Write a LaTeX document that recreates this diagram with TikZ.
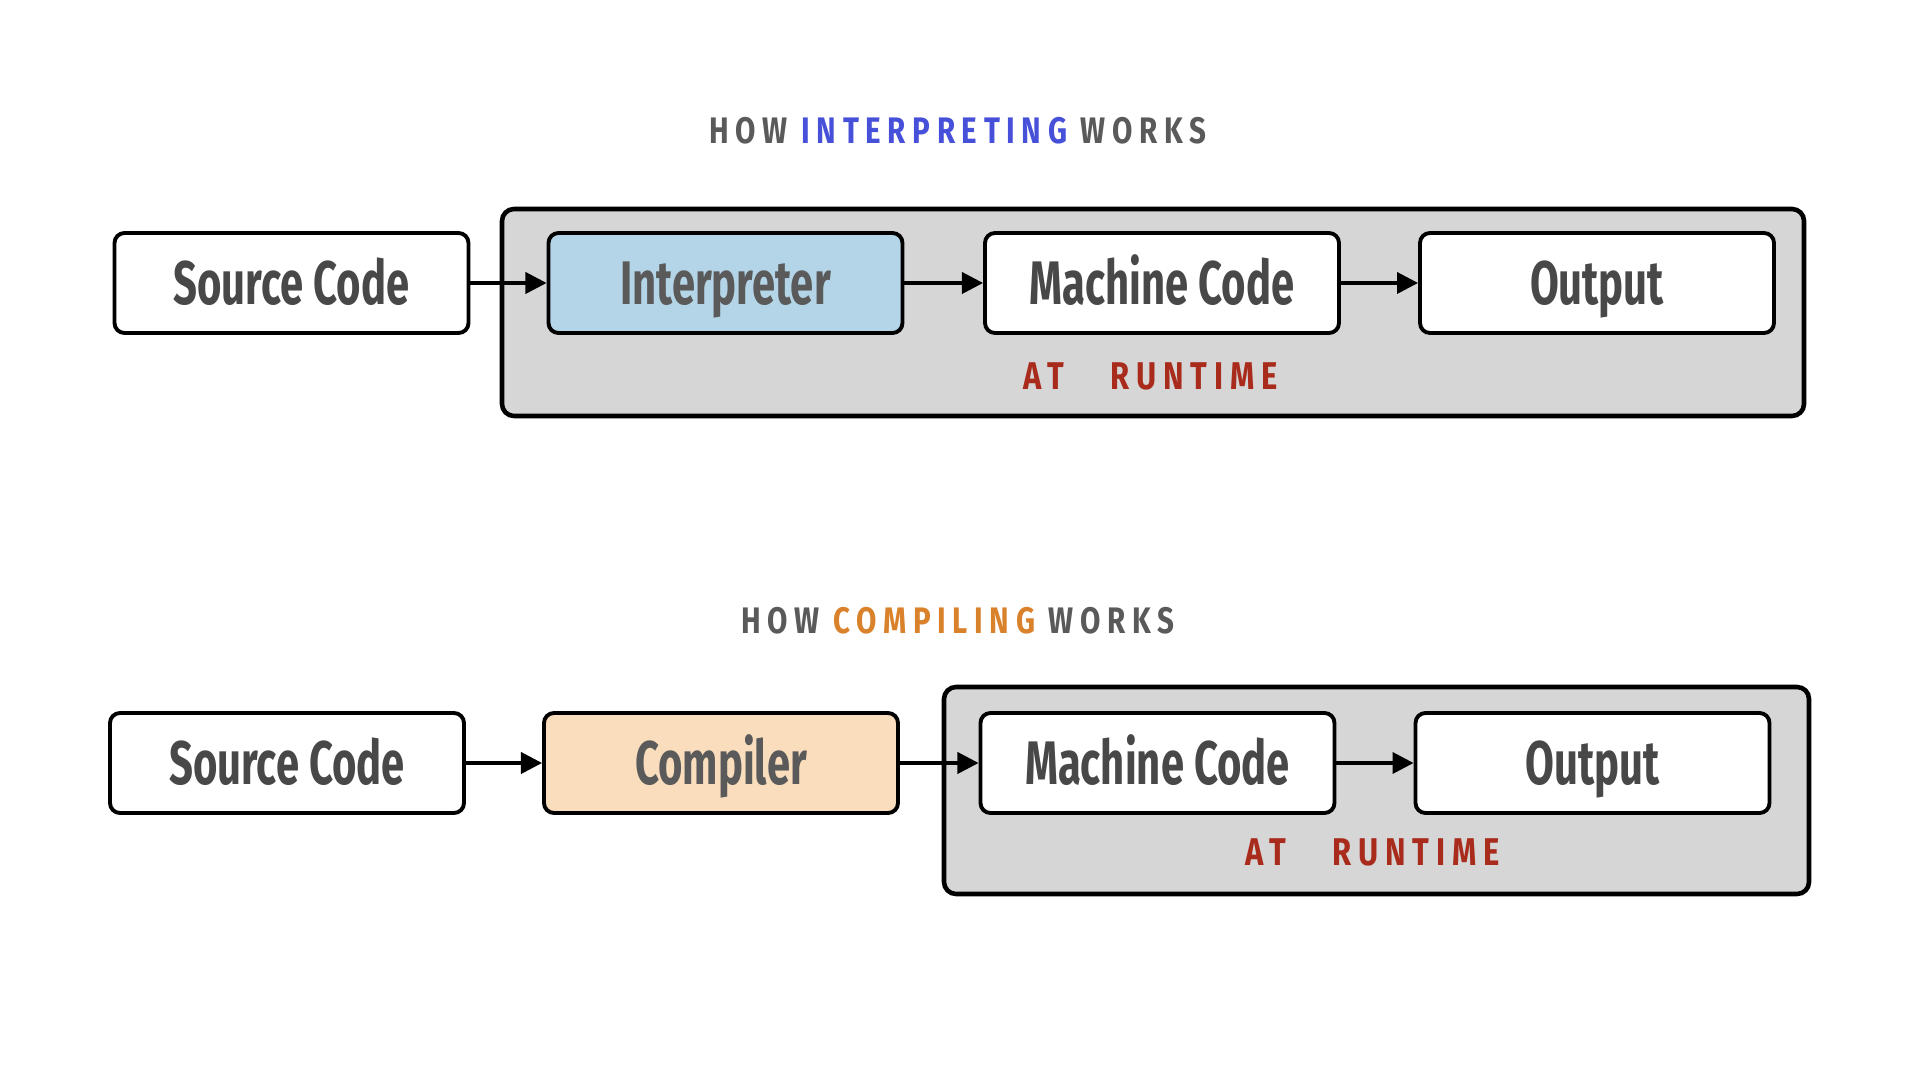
\documentclass[tikz,border=0pt]{standalone}
\usepackage{fontspec}
\setmainfont{Fira Sans}
\newfontfamily\boxfont{Fira Sans}[FakeStretch=0.68]
\newfontfamily\titlefont{Fira Sans}[FakeStretch=0.8, LetterSpace=18]
\usetikzlibrary{arrows.meta}
\definecolor{inkgray}{HTML}{484848}
\definecolor{titlegray}{HTML}{5A5A5A}
\definecolor{interpblue}{HTML}{B4D5E7}
\definecolor{compileorange}{HTML}{F9DDBD}
\definecolor{boxgray}{HTML}{D6D6D6}
\definecolor{runtimered}{HTML}{A82B1B}
\definecolor{titleblue}{HTML}{4650D8}
\definecolor{titleorange}{HTML}{D9822B}

\begin{document}
\begin{tikzpicture}[
	stagebox/.style={draw=black, line width=1.1pt, rounded corners=0.1cm, fill=white,
		minimum width=3.54cm, minimum height=1cm, text height=0.5cm, text depth=0.07cm,
		font=\boxfont\bfseries\fontsize{17.5}{20}\selectfont, text=inkgray},
	runbox/.style={draw=black, line width=1.3pt, rounded corners=0.12cm, fill=boxgray,
		minimum height=2.07cm},
	flow/.style={-{Triangle[length=6pt,width=6pt]}, line width=1pt, black},
	heading/.style={font=\titlefont\bfseries\fontsize{10.5}{12}\selectfont, text=titlegray},
	runlabel/.style={font=\titlefont\bfseries\fontsize{11}{13}\selectfont, text=runtimered}
]
		\useasboundingbox (0, 0) rectangle (19.2, 10.8);
		
		%%%%% INTERPRETING %%%%%
		\node[heading] (titleA) at (9.58, 9.49) {HOW \textcolor{titleblue}{INTERPRETING} WORKS};
		
		\node[runbox, minimum width=13.02cm] (runA) at (11.53, 7.675) {};
		\node[runlabel] (atA) at (11.51, 7.04) {AT\hspace{1.2em}RUNTIME};
		
		\node[stagebox] (srcA) at (2.915, 7.97) {Source Code};
		\node[stagebox, fill=interpblue, text=titlegray] (interp) at (7.255, 7.97) {Interpreter};
		\node[stagebox] (machA) at (11.62, 7.97) {Machine Code};
		\node[stagebox] (outA) at (15.97, 7.97) {Output};
		
		\draw[flow] (srcA) -- (interp);
		\draw[flow] (interp) -- (machA);
		\draw[flow] (machA) -- (outA);
		
		%%%%% COMPILING %%%%%
		\node[heading] (titleB) at (9.58, 4.59) {HOW \textcolor{titleorange}{COMPILING} WORKS};
		
		\node[runbox, minimum width=8.65cm] (runB) at (13.765, 2.895) {};
		\node[runlabel] (atB) at (13.73, 2.28) {AT\hspace{1.2em}RUNTIME};
		
		\node[stagebox] (srcB) at (2.87, 3.17) {Source Code};
		\node[stagebox, fill=compileorange, text=titlegray] (comp) at (7.21, 3.17) {Compiler};
		\node[stagebox] (machB) at (11.575, 3.17) {Machine Code};
		\node[stagebox] (outB) at (15.925, 3.17) {Output};
		
		\draw[flow] (srcB) -- (comp);
		\draw[flow] (comp) -- (machB);
		\draw[flow] (machB) -- (outB);
\end{tikzpicture}
\end{document}
